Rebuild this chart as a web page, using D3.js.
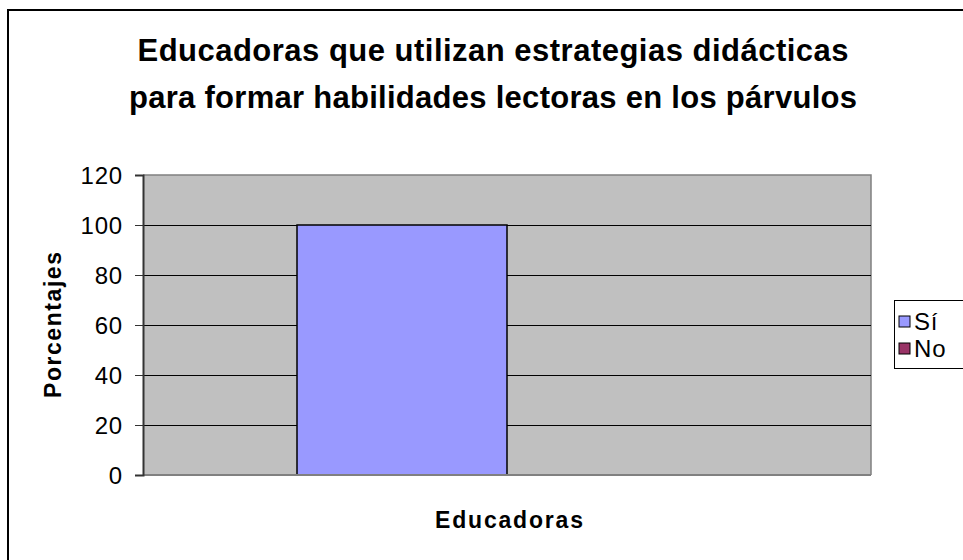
<!DOCTYPE html>
<html><head><meta charset="utf-8">
<script src="https://cdn.jsdelivr.net/npm/d3@7"></script>
<style>html,body{margin:0;padding:0;background:#fff;overflow:hidden}svg{display:block}text{font-family:"Liberation Sans",Arial,sans-serif}</style>
</head><body>
<svg id="c" width="963" height="560"></svg>
<script>
const categories = ["Educadoras"];
const seriesNames = ["Sí", "No"];
const seriesColors = ["#9999FF", "#993366"];
const siValues = [100];
const noValues = [0];
const yTicks = [0, 20, 40, 60, 80, 100, 120];
const titleLines = ["Educadoras que utilizan estrategias didácticas", "para formar habilidades lectoras en los párvulos"];

const svg = d3.select("#c");
svg.append("rect").attr("x", 8).attr("y", 10).attr("width", 980).attr("height", 580)
  .attr("fill", "#fff").attr("stroke", "#000").attr("stroke-width", 2);

const L = 143, R = 871, T = 175, B = 475;
const y = d3.scaleLinear().domain([0, 120]).range([B, T]);
const x0 = d3.scaleBand().domain(categories).range([L, R]).paddingInner(0).paddingOuter((728/420 - 1)/2);
const x1 = d3.scaleBand().domain(seriesNames).range([0, x0.bandwidth()]);

svg.append("rect").attr("x", L).attr("y", T).attr("width", R - L).attr("height", B - T).attr("fill", "#C0C0C0");
svg.append("path").attr("d", `M${L},${T}H${R}V${B}`).attr("fill", "none").attr("stroke", "#808080").attr("stroke-width", 1.5);

svg.append("g").selectAll("line").data(yTicks.filter(d => d > 0 && d < 120)).join("line")
  .attr("x1", L).attr("x2", R).attr("y1", d => Math.round(y(d)) + 0.5).attr("y2", d => Math.round(y(d)) + 0.5)
  .attr("stroke", "#000").attr("stroke-width", 1);

const data = categories.map((c, i) => ({cat: c, vals: [siValues[i], noValues[i]]}));
const g = svg.append("g").selectAll("g").data(data).join("g").attr("transform", d => `translate(${x0(d.cat)},0)`);
g.selectAll("rect").data(d => d.vals.map((v, j) => ({v, s: seriesNames[j], c: seriesColors[j]})).filter(d => d.v > 0)).join("rect")
  .attr("x", d => x1(d.s)).attr("y", d => y(d.v)).attr("width", x1.bandwidth()).attr("height", d => y(0) - y(d.v))
  .attr("fill", d => d.c).attr("stroke", "#000").attr("stroke-width", 1.5);

svg.append("line").attr("x1", L).attr("x2", R).attr("y1", B).attr("y2", B).attr("stroke", "#808080").attr("stroke-width", 2);

const yAxis = d3.axisLeft(y).tickValues(yTicks).tickSize(8).tickPadding(12).tickFormat(d3.format("d"));
const ya = svg.append("g").attr("transform", `translate(${L},0)`).call(yAxis);
ya.select(".domain").attr("stroke", "#333").attr("stroke-width", 2);
ya.selectAll(".tick line").attr("stroke", "#333");
ya.selectAll("text").attr("font-size", 24).attr("fill", "#000").attr("dy", "0.36em")
  .style("font-family", '"Liberation Sans",Arial,sans-serif').attr("letter-spacing", 0.8);

svg.append("g").selectAll("text").data(titleLines).join("text")
  .attr("x", 493).attr("y", (d, i) => 61 + i * 47).attr("text-anchor", "middle")
  .attr("font-size", 31).attr("font-weight", "bold")
  .attr("textLength", (d, i) => i === 0 ? 711 : 728).attr("lengthAdjust", "spacing").text(d => d);

svg.append("text").attr("transform", "translate(61,325) rotate(-90)").attr("text-anchor", "middle")
  .attr("font-size", 23).attr("font-weight", "bold").attr("textLength", 146).attr("lengthAdjust", "spacing").text("Porcentajes");
svg.append("text").attr("x", 509).attr("y", 528).attr("text-anchor", "middle")
  .attr("font-size", 23).attr("font-weight", "bold").attr("textLength", 148).attr("lengthAdjust", "spacing").text("Educadoras");

const lg = svg.append("g");
lg.append("rect").attr("x", 894.5).attr("y", 300.5).attr("width", 90).attr("height", 68).attr("fill", "#fff").attr("stroke", "#000").attr("stroke-width", 1);
const li = lg.selectAll("g").data(seriesNames).join("g").attr("transform", (d, i) => `translate(899,${316 + i * 27})`);
li.append("rect").attr("width", 11).attr("height", 11).attr("fill", (d, i) => seriesColors[i]).attr("stroke", "#000").attr("stroke-width", 1);
li.append("text").attr("x", 15).attr("y", 14).attr("font-size", 24).attr("letter-spacing", 0.8).text(d => d);
</script>
</body></html>
